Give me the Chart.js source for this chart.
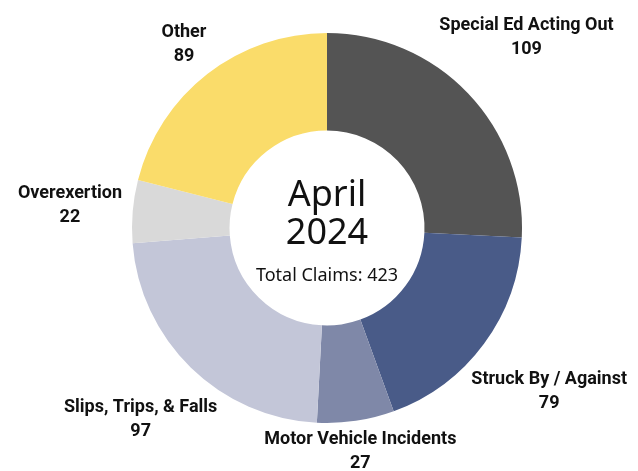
<!DOCTYPE html>
<html>
<head>
<meta charset="utf-8">
<script src="https://cdn.jsdelivr.net/npm/chart.js@4"></script>
<style>
  html, body { margin: 0; padding: 0; background: #ffffff; }
  #wrap { width: 638px; height: 471px; position: relative; }
</style>
</head>
<body>
<div id="wrap"><canvas id="claimsChart" width="638" height="471"></canvas></div>
<script>
const categories = ['Special Ed Acting Out', 'Struck By / Against', 'Motor Vehicle Incidents', 'Slips, Trips, & Falls', 'Overexertion', 'Other'];
const claimCounts = [109, 79, 27, 97, 22, 89];
const sliceColors = ['#545454', '#495b88', '#7f88a8', '#c3c6d8', '#d9d9d9', '#fadc6a'];
const centerTitle = ['April', '2024'];
const totalLabel = 'Total Claims: ' + claimCounts.reduce((a, b) => a + b, 0);

const labelFont = 'bold 18px Roboto';
const lineGap = 24;
const labelGap = 10;

// shortest distance from the doughnut centre to a box centred at (bx, by)
function boxDistance(bx, by, hw, hh) {
    const nx = Math.max(Math.abs(bx) - hw, 0);
    const ny = Math.max(Math.abs(by) - hh, 0);
    return Math.sqrt(nx * nx + ny * ny);
}

// draws the outside labels at each slice's mid angle, pushed out until the text block clears the ring
const outsideLabels = {
    id: 'outsideLabels',
    afterDraw(chart) {
        const ctx = chart.ctx;
        const meta = chart.getDatasetMeta(0);
        ctx.save();
        ctx.font = labelFont;
        ctx.fillStyle = '#111111';
        ctx.textAlign = 'center';
        ctx.textBaseline = 'middle';
        meta.data.forEach((arc, i) => {
            const p = arc.getProps(['x', 'y', 'startAngle', 'endAngle', 'outerRadius'], true);
            const mid = (p.startAngle + p.endAngle) / 2;
            const ux = Math.cos(mid);
            const uy = Math.sin(mid);
            const hw = ctx.measureText(categories[i]).width / 2;
            const hh = 18;
            let d = p.outerRadius;
            while (boxDistance(ux * d, uy * d, hw, hh) < p.outerRadius + labelGap) d += 0.5;
            const cx = p.x + ux * d;
            const cy = p.y + uy * d;
            ctx.fillText(categories[i], cx, cy - lineGap / 2);
            ctx.fillText(String(claimCounts[i]), cx, cy + lineGap / 2);
        });
        ctx.restore();
    }
};

const centerText = {
    id: 'centerText',
    afterDraw(chart) {
        const ctx = chart.ctx;
        const arc = chart.getDatasetMeta(0).data[0];
        const x = arc.x, y = arc.y;
        ctx.save();
        ctx.fillStyle = '#111111';
        ctx.textAlign = 'center';
        ctx.textBaseline = 'middle';
        ctx.font = '36px "Noto Sans"';
        ctx.fillText(centerTitle[0], x, y - 32);
        ctx.fillText(centerTitle[1], x, y + 6);
        ctx.font = '18px "Noto Sans"';
        ctx.fillText(totalLabel, x, y + 48);
        ctx.restore();
    }
};

new Chart(document.getElementById('claimsChart'), {
    type: 'doughnut',
    data: {
        labels: categories,
        datasets: [{
            data: claimCounts,
            backgroundColor: sliceColors,
            borderWidth: 0
        }]
    },
    options: {
        responsive: false,
        animation: false,
        cutout: '50%',
        layout: { padding: { left: 132, right: 116, top: 33, bottom: 48 } },
        plugins: {
            legend: { display: false },
            tooltip: { enabled: false }
        }
    },
    plugins: [outsideLabels, centerText]
});
</script>
</body>
</html>
